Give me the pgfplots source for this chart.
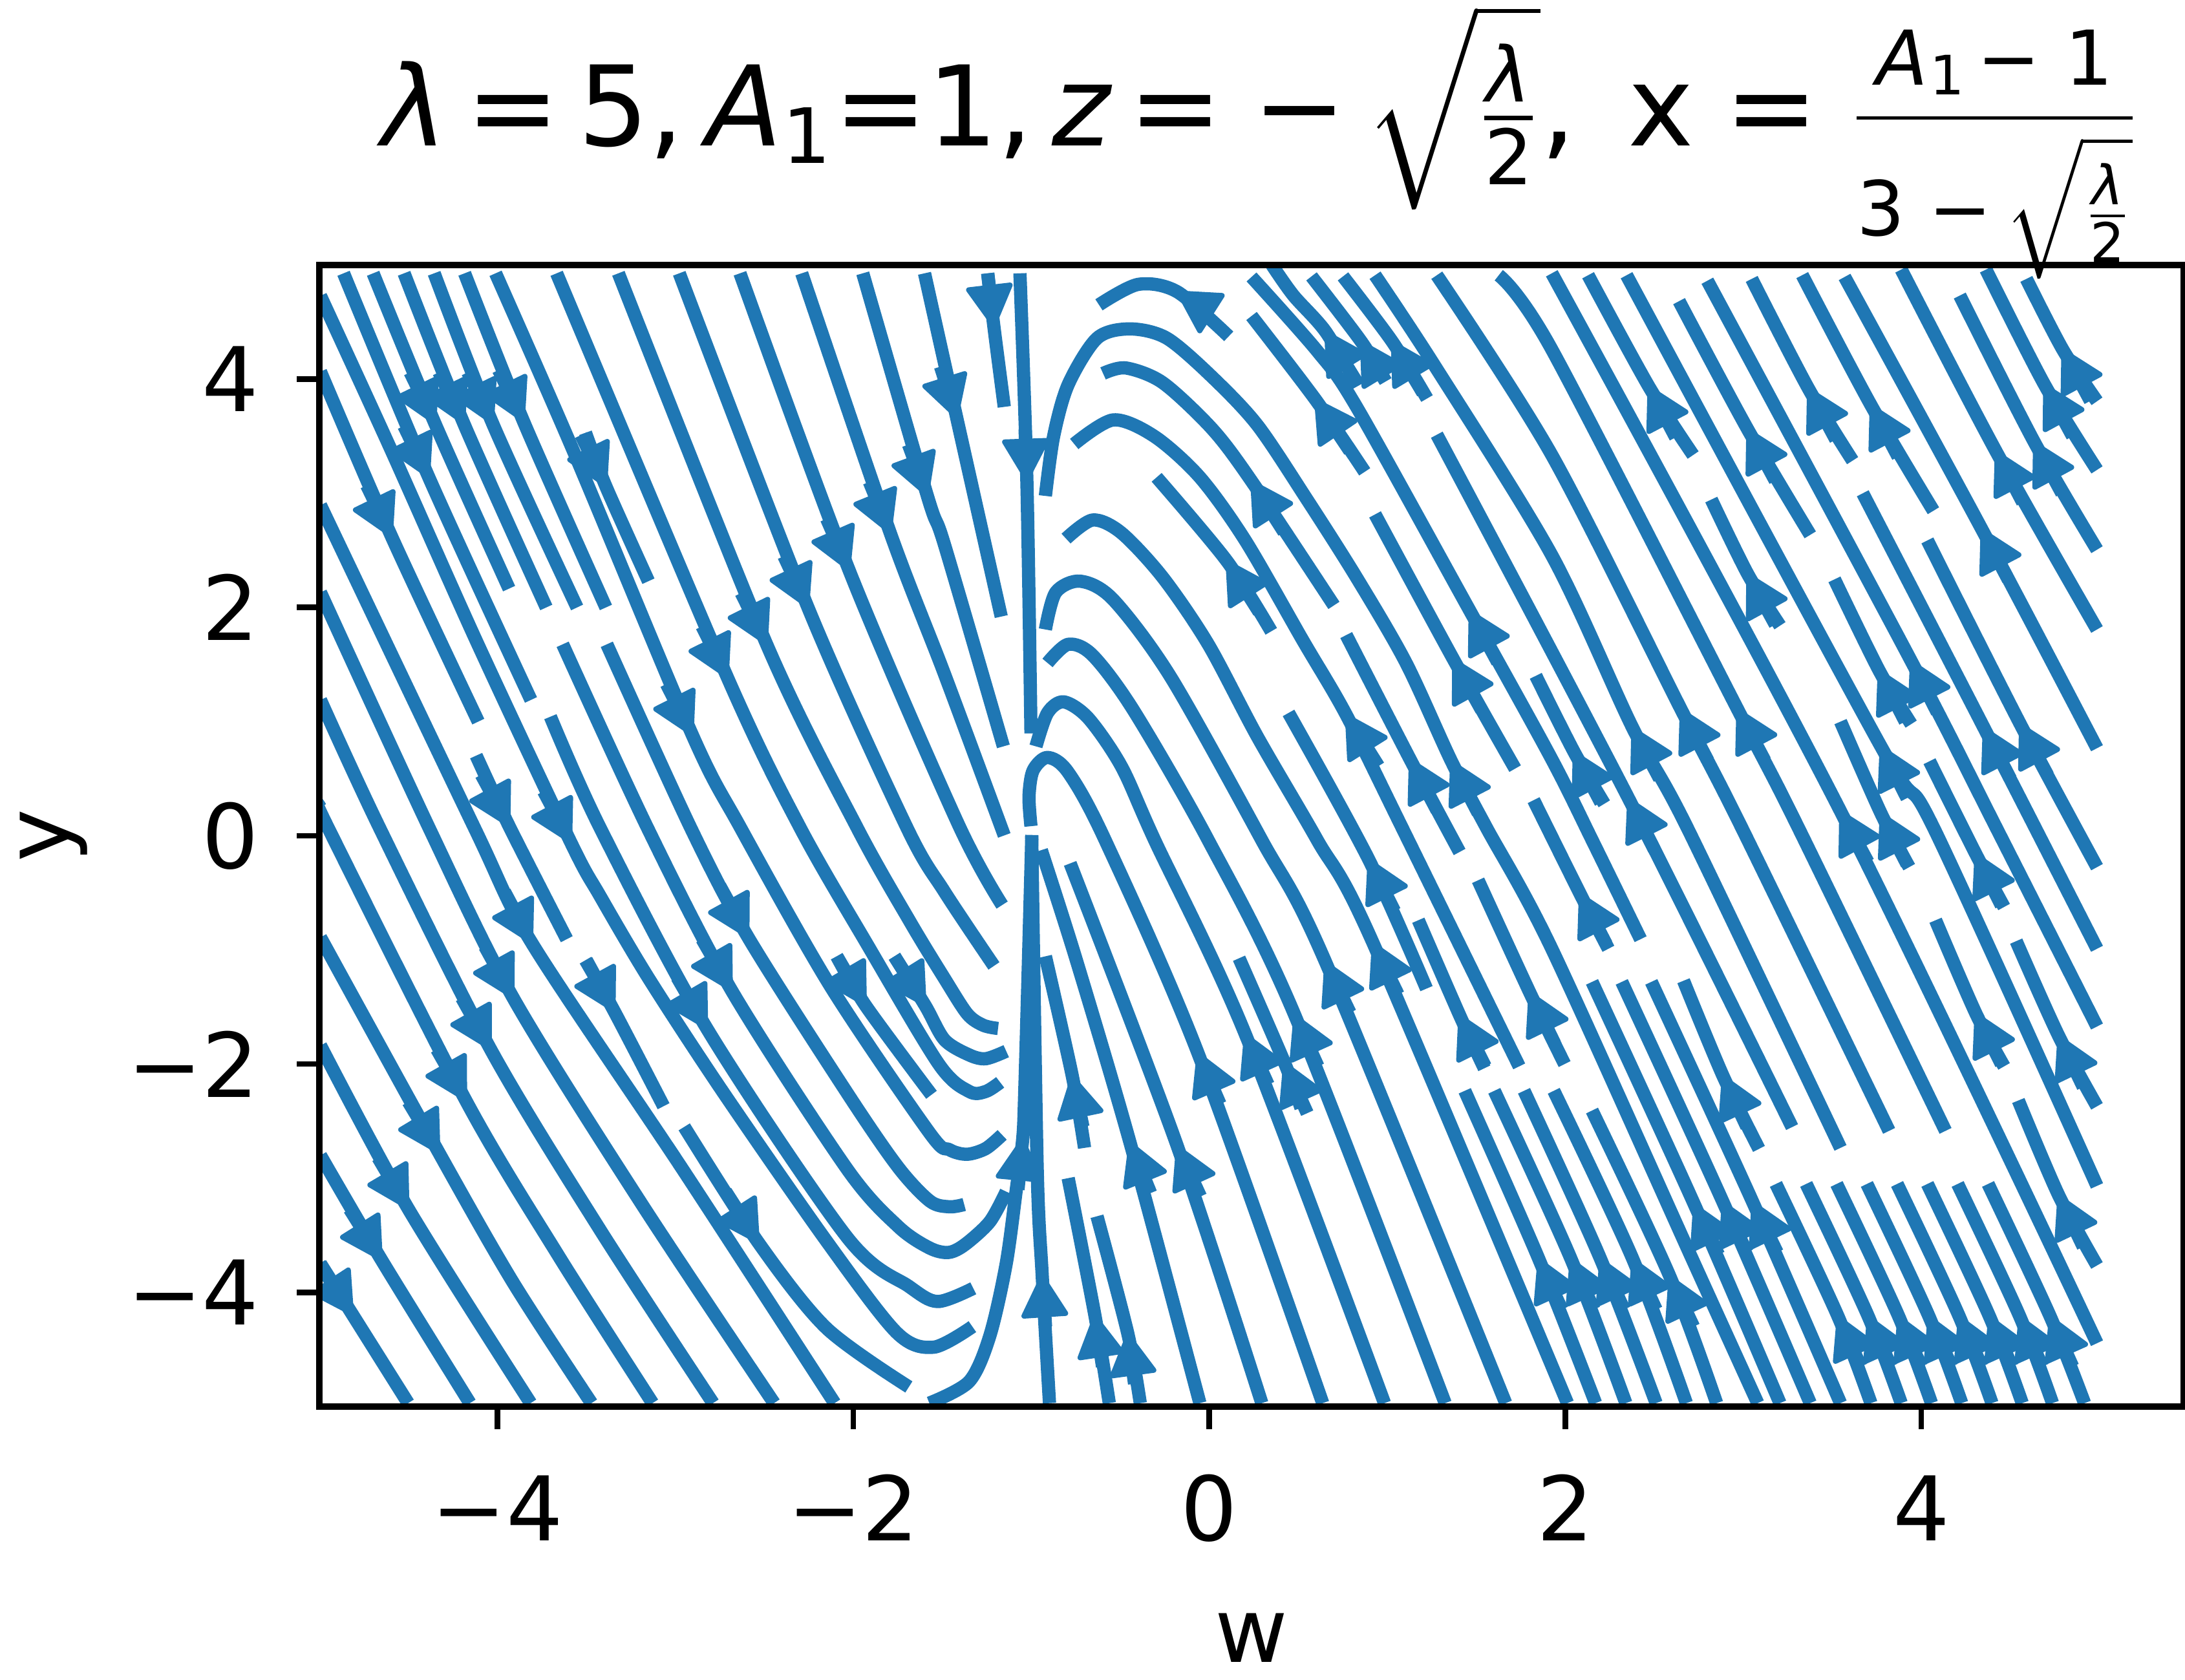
\documentclass[border=0pt]{standalone}
\usepackage{fontspec}
\setmainfont{DejaVu Sans}
\usepackage{amsmath}
\usepackage{pgfplots}
\pgfplotsset{compat=1.18}
\usetikzlibrary{arrows.meta}
\definecolor{tabblue}{HTML}{1F77B4}

% 1 px of the reference = 0.1pt
\pgfplotsset{
  stream/.style={tabblue,line width=2.05pt,line cap=butt,line join=round,smooth,tension=0.5,no markers},
  streamhead/.style={tabblue,line width=2.05pt,line cap=butt,no markers,
    -{Triangle[length=7.0pt,width=7.6pt,round,line width=0.8pt]}},
}
\newcommand\strm[1]{\addplot[stream] coordinates {#1};}
\newcommand\hd[1]{\addplot[streamhead] coordinates {#1};}
\newcommand\fs[1]{\fontsize{#1}{#1}\selectfont}

\begin{document}
\begin{tikzpicture}
\useasboundingbox (-49.4pt,-42.3pt) rectangle (288.6pt,217.6pt);
\begin{axis}[
  scale only axis, width=288.4pt, height=176.6pt,
  at={(0,0)}, anchor=south west,
  xmin=-5, xmax=5.474, ymin=-5, ymax=5,
  xtick={-4,-2,0,2,4}, ytick={-4,-2,0,2,4},
  xticklabels={−4,−2,0,2,4}, yticklabels={−4,−2,0,2,4},
  tick align=outside, tick pos=lower,
  major tick length=3.5pt,
  every tick/.style={black,line width=0.85pt},
  axis line style={line width=0.95pt},
  axis on top,
  tick label style={font=\fs{13.8}},
  xticklabel style={anchor=base,yshift=-17.3pt},
  yticklabel style={anchor=east,xshift=-2.3pt},
  xlabel={w}, ylabel={y},
  label style={font=\fs{13.8}},
  xlabel style={at={(axis description cs:0.5,0)},anchor=base,yshift=-39.6pt},
  ylabel style={at={(axis description cs:0,0.5)},anchor=base,yshift=38.7pt},
  title={$\hbox{\itshape λ}\,\hbox{=}\,\hbox{5,}\kern3.4pt\hbox{\itshape A}_{\hbox{\fs{11.8}1}}\hbox{=1,}\,\hbox{\itshape z}\,\hbox{=}\;\hbox{−}\,\sqrt{\frac{\hbox{\fs{11.8}\itshape λ}}{\hbox{\fs{11.8}2}}}\hbox{,\kern2.6pt\ x}\;\hbox{=}\;\genfrac{}{}{0.55pt}{}{\hbox{\rule[-4.3pt]{0pt}{4.3pt}\fs{11.7}\itshape A\kern0.3pt\raisebox{-1.5pt}{\fs{8.4}\upshape 1}\,\upshape − 1}}{\vbox{\kern2pt\hbox{\fs{11.7}3 −\,$\sqrt{\frac{\hbox{\fs{8.4}\itshape λ}}{\hbox{\fs{8.4}2}}}$}}}$},
  title style={font=\fs{17.2},at={(axis description cs:0.5,1)},anchor=base,yshift=12.4pt,xshift=1.5pt,inner sep=0pt},
]
% left of the singular line: flow goes down
\strm{(-4.994,4.73)(-4.594,3.37)(-4.119,1.71)(-3.587,-.059)(-3.424,-.525)(-3.147,-1.256)(-2.73,-2.25)(-2.151,-3.55)(-1.758,-4.35)(-1.549,-4.48)(-1.331,-4.30)}
\strm{(-4.864,4.927)(-4.385,3.14)(-3.811,1.19)}
\strm{(-4.994,4.066)(-4.594,2.62)(-4.107,1.0)}
\strm{(-4.698,4.927)(-4.35,3.61)(-3.934,2.165)}
\strm{(-4.524,4.927)(-4.188,3.61)(-3.725,2.0)}
\strm{(-4.355,4.927)(-4.026,3.61)(-3.552,2.0)}
\strm{(-4.184,4.927)(-3.853,3.63)(-3.39,2.0)}
\strm{(-4.01,4.927)(-3.563,3.335)(-2.904,.881)(-2.635,.074)(-2.128,-1.32)(-1.573,-2.6)(-1.46,-2.75)(-1.361,-2.79)(-1.256,-2.74)(-1.164,-2.62)}
\strm{(-3.505,3.53)(-3.39,3.06)(-3.151,2.23)}
\strm{(-3.667,4.927)(-2.707,1.385)(-2.30,.074)(-1.92,-.957)(-1.52,-2.0)(-1.349,-2.24)(-1.256,-2.24)(-1.175,-2.16)}
\strm{(-3.32,4.927)(-2.487,1.677)(-1.98,.074)(-1.68,-.757)(-1.488,-1.25)(-1.36,-1.56)(-1.27,-1.66)(-1.187,-1.688)}
\strm{(-2.978,4.927)(-2.255,2.0)(-1.70,.074)(-1.488,-.49)(-1.21,-1.14)}
\strm{(-2.637,4.927)(-2.024,2.327)(-1.415,.117)(-1.164,-.607)}
\strm{(-2.29,4.927)(-1.792,2.65)(-1.488,1.417)(-1.152,.003)}
\strm{(-1.947,4.927)(-1.584,2.977)(-1.488,2.55)(-1.157,.783)}
\strm{(-1.6,4.927)(-1.419,3.66)(-1.169,1.92)}
\strm{(-1.245,4.927)(-1.21,4.456)(-1.152,3.757)}
\strm{(-1.064,4.927)(-1.025,3.107)(-1.002,.897)}
\strm{(-4.994,2.896)(-4.13,.074)(-3.806,-.94)(-2.961,-2.917)(-2.105,-4.97)}
\strm{(-4.994,2.132)(-4.385,.074)(-3.911,-1.42)(-3.193,-3.216)(-2.445,-4.97)}
\strm{(-4.994,1.19)(-4.663,.074)(-4.038,-1.87)(-3.424,-3.449)(-2.788,-4.97)}
\strm{(-4.994,.247)(-4.952,.074)(-4.177,-2.319)(-3.656,-3.68)(-3.128,-4.97)}
\strm{(-4.994,-.89)(-4.327,-2.78)(-3.911,-3.914)(-3.471,-4.97)}
\strm{(-4.994,-1.837)(-4.501,-3.266)(-3.813,-4.97)}
\strm{(-4.994,-2.80)(-4.651,-3.715)(-4.154,-4.97)}
\strm{(-4.994,-3.748)(-4.813,-4.196)(-4.501,-4.97)}
\strm{(-4.119,.702)(-3.934,.085)(-3.61,-.906)}
\strm{(-3.505,-1.09)(-3.343,-1.538)(-3.066,-2.369)}
\strm{(-2.95,-2.55)(-2.533,-3.565)(-2.151,-4.313)(-1.688,-4.828)}
\strm{(-3.702,1.043)(-3.424,.074)(-2.823,-1.688)(-2.036,-3.515)(-1.688,-3.947)(-1.526,-4.08)(-1.326,-3.964)}
\strm{(-3.633,1.677)(-3.158,.074)(-2.684,-1.355)(-2.036,-2.917)(-1.75,-3.42)(-1.573,-3.61)(-1.465,-3.65)(-1.372,-3.58)(-1.233,-3.38)(-1.141,-3.117)}
\strm{(-3.385,1.677)(-2.915,.074)(-2.591,-.89)(-2.036,-2.25)(-1.75,-2.9)(-1.57,-3.2)(-1.46,-3.25)(-1.377,-3.23)}
\strm{(-1.769,-1.056)(-1.596,-1.488)(-1.488,-1.787)(-1.349,-1.92)(-1.256,-1.953)(-1.141,-1.887)}
\strm{(-2.093,-1.056)(-1.931,-1.488)(-1.561,-2.269)}
\hd{(-4.525,3.59)(-4.385,3.14)}
\hd{(-4.734,3.07)(-4.594,2.62)}
\hd{(-4.49,4.06)(-4.35,3.61)}
\hd{(-4.328,4.06)(-4.188,3.61)}
\hd{(-4.166,4.06)(-4.026,3.61)}
\hd{(-3.993,4.08)(-3.853,3.63)}
\hd{(-3.53,3.51)(-3.39,3.06)}
\hd{(-3.05,1.33)(-2.904,.881)}
\hd{(-2.85,1.835)(-2.707,1.385)}
\hd{(-2.63,2.127)(-2.487,1.677)}
\hd{(-2.39,2.45)(-2.255,2.0)}
\hd{(-2.15,2.777)(-2.024,2.327)}
\hd{(-1.91,3.1)(-1.792,2.65)}
\hd{(-1.69,3.427)(-1.584,2.977)}
\hd{(-1.51,4.11)(-1.419,3.66)}
\hd{(-1.245,4.927)(-1.21,4.456)}
\hd{(-1.035,3.56)(-1.025,3.107)}
\hd{(-3.74,.39)(-3.587,-.059)}
\hd{(-3.96,-.49)(-3.806,-.94)}
\hd{(-4.07,-.97)(-3.911,-1.42)}
\hd{(-4.2,-1.42)(-4.038,-1.87)}
\hd{(-4.34,-1.87)(-4.177,-2.319)}
\hd{(-4.5,-2.33)(-4.327,-2.78)}
\hd{(-4.67,-2.82)(-4.501,-3.266)}
\hd{(-4.83,-3.27)(-4.651,-3.715)}
\hd{(-5.0,-3.75)(-4.813,-4.196)}
\hd{(-4.09,.535)(-3.934,.085)}
\hd{(-3.5,-1.09)(-3.343,-1.538)}
\hd{(-2.718,-3.115)(-2.533,-3.565)}
\hd{(-2.99,-1.24)(-2.823,-1.688)}
\hd{(-2.85,-.905)(-2.684,-1.355)}
\hd{(-2.75,-.44)(-2.591,-.89)}
\hd{(-1.769,-1.056)(-1.596,-1.488)}
\hd{(-2.093,-1.056)(-1.931,-1.488)}
% singular line and the lines that leave it
\strm{(-1.573,-4.97)(-1.349,-4.78)(-1.233,-4.38)(-1.141,-3.747)(-1.083,-3.083)(-1.048,-2.65)(-1.037,-2.25)(-1.013,-.923)(-.997,.007)}
\strm{(-.898,-4.97)(-.939,-3.847)(-.967,-2.917)(-.998,.0)}
\strm{(-.793,-2.999)(-.643,-4.2)(-.562,-4.97)}
\strm{(-.631,-3.333)(-.458,-4.36)(-.388,-4.97)}
\strm{(-.921,-1.056)(-.77,-2.103)(-.701,-2.734)}
\strm{(-.944,-.126)(-.747,-1.09)(-.446,-2.685)(-.053,-4.97)}
\strm{(-.782,-.242)(-.18,-2.718)(.295,-4.97)}
\strm{(-1.002,.084)(-1.013,.344)(-.99,.572)(-.909,.686)(-.793,.556)(-.585,-.039)(-.064,-1.903)(.637,-4.97)}
\strm{(-.974,.783)(-.909,1.076)(-.817,1.173)(-.678,1.027)(-.493,.605)(-.307,-.039)(.202,-1.737)(.984,-4.97)}
\strm{(-.909,1.514)(-.793,1.677)(-.655,1.58)(-.423,1.092)(-.006,-.039)(.48,-1.571)(1.325,-4.97)}
\strm{(-.921,1.807)(-.863,2.132)(-.724,2.23)(-.539,2.067)(-.215,1.385)(.295,-.039)(.653,-1.106)(1.665,-4.97)}
\strm{(-.805,2.603)(-.655,2.766)(-.493,2.652)(-.261,2.262)(-.006,1.677)(.271,.865)(.607,-.039)(.92,-.94)(2.012,-4.97)}
\strm{(.445,1.076)(.896,-.209)(1.22,-1.339)}
\strm{(-.759,3.432)(-.539,3.643)(-.307,3.497)(-.053,3.14)(.202,2.587)(.526,1.71)(.769,1.06)(1.082,.074)(1.741,-2.02)}
\strm{(-.296,3.14)(.098,2.408)(.348,1.791)}
\strm{(-.597,4.05)(-.469,4.098)(-.261,3.968)(.017,3.562)(.237,3.107)(.7,2.018)}
\strm{(-.62,4.651)(-.40,4.83)(-.18,4.765)(.109,4.375)}
\strm{(.237,4.553)(.596,3.822)(.873,3.188)}
\strm{(-.921,2.977)(-.875,3.497)(-.793,3.952)(-.631,4.358)(-.446,4.44)(-.238,4.358)(.017,4.017)(.271,3.595)(.549,2.945)(.827,2.262)(1.105,1.515)(1.36,.653)(1.556,.074)(1.924,-.99)(2.705,-3.68)(3.081,-4.97)}
\strm{(.769,1.758)(1.128,.67)(1.406,-.142)}
\strm{(.931,2.815)(1.371,1.547)(1.718,.588)}
\strm{(1.278,3.513)(2.355,.328)(3.274,-2.552)}
\strm{(.237,4.895)(.607,4.245)(.827,3.757)(1.464,1.97)(1.924,.67)(2.151,-.039)(2.423,-.906)}
\strm{(.352,5.0)(.472,4.734)(.653,4.417)(.835,3.94)}
\strm{(.574,4.9)(.853,4.33)(.991,3.98)}
\strm{(.751,4.9)(1.027,4.33)(1.223,3.83)}
\strm{(.931,4.91)(1.267,4.115)(1.924,2.457)(2.378,.946)(2.684,.074)(3.546,-2.734)}
\strm{(1.278,4.91)(1.924,3.335)(2.65,1.108)(2.99,.074)(3.819,-2.585)}
\strm{(1.626,4.91)(1.924,4.26)(2.968,1.108)(3.308,.074)(4.136,-2.585)}
\strm{(1.924,4.927)(3.546,.215)(4.987,-4.445)}
% right block
\strm{(2.128,4.91)(2.469,3.936)(2.718,3.335)}
\strm{(2.344,4.91)(3.773,.783)(4.068,.074)(4.987,-3.067)}
\strm{(2.639,4.683)(3.024,3.562)(3.376,2.636)}
\strm{(2.798,4.862)(3.943,1.531)(4.42,.074)(4.987,-1.671)}
\strm{(3.047,4.878)(3.365,3.92)(3.614,3.286)}
\strm{(3.331,4.911)(3.717,3.773)(4.068,2.847)}
\strm{(3.569,4.895)(4.34,2.685)(4.987,.767)}
\strm{(3.887,4.96)(4.42,3.367)(4.987,1.807)}
\strm{(4.216,4.732)(4.635,3.448)(4.987,2.506)}
\strm{(4.363,4.96)(4.692,3.952)(4.987,3.205)}
\strm{(4.59,4.878)(4.794,4.261)(4.987,3.806)}
\strm{(2.82,2.945)(3.024,2.295)(3.206,1.84)}
\strm{(3.512,2.246)(3.762,1.45)(3.943,.978)}
\strm{(3.671,3.0)(4.352,.946)(4.987,-.99)}
\strm{(4.034,2.587)(4.556,.978)(4.987,-.275)}
\strm{(3.546,1.0)(3.773,.198)(3.932,-.275)}
\strm{(4.046,.653)(4.306,-.159)(4.465,-.624)}
\strm{(4.08,-.74)(4.306,-1.555)(4.465,-2.02)}
\strm{(4.533,-.923)(4.772,-1.754)(4.987,-2.37)}
\strm{(4.545,-2.319)(4.772,-3.15)(4.987,-3.764)}
\strm{(1.834,1.401)(2.049,.735)(2.219,.28)}
\strm{(1.822,.312)(2.083,-.508)(2.242,-.99)}
\strm{(.167,-1.073)(.422,-1.987)(.515,-2.385)}
\strm{(1.174,-.74)(1.406,-1.571)(1.545,-2.037)}
\strm{(1.51,-.39)(1.8,-1.372)(1.996,-2.0)}
\strm{(2.664,-1.27)(2.886,-2.104)(3.088,-2.743)}
% dense rows at the bottom right
\strm{(1.435,-2.234)(1.851,-3.707)(2.17,-4.97)}
\strm{(1.601,-2.234)(2.032,-3.707)(2.34,-4.97)}
\strm{(1.768,-2.234)(2.198,-3.707)(2.51,-4.97)}
\strm{(1.935,-2.234)(2.379,-3.707)(2.68,-4.97)}
\strm{(2.15,-2.407)(2.587,-3.859)(2.85,-4.97)}
\strm{(2.15,-1.28)(2.725,-3.23)(3.206,-4.97)}
\strm{(2.317,-1.28)(2.886,-3.209)(3.376,-4.97)}
\strm{(2.483,-1.28)(3.053,-3.209)(3.546,-4.97)}
\strm{(3.183,-3.05)(3.532,-4.21)(3.717,-4.97)}
\strm{(3.353,-3.05)(3.702,-4.21)(3.887,-4.97)}
\strm{(3.524,-3.05)(3.873,-4.21)(4.057,-4.97)}
\strm{(3.694,-3.05)(4.043,-4.21)(4.227,-4.97)}
\strm{(3.864,-3.05)(4.213,-4.21)(4.397,-4.97)}
\strm{(4.034,-3.05)(4.383,-4.21)(4.567,-4.97)}
\strm{(4.204,-3.05)(4.553,-4.21)(4.737,-4.97)}
\strm{(4.375,-3.05)(4.724,-4.21)(4.917,-4.97)}
% arrow heads, right of the singular line: flow goes up
\hd{(-1.075,-3.1)(-1.048,-2.65)}
\hd{(-.92,-4.3)(-.939,-3.847)}
\hd{(-.60,-4.65)(-.643,-4.2)}
\hd{(-.42,-4.8)(-.458,-4.36)}
\hd{(-.71,-2.55)(-.77,-2.103)}
\hd{(-.33,-3.13)(-.446,-2.685)}
\hd{(-.05,-3.16)(-.18,-2.718)}
\hd{(.06,-2.35)(-.064,-1.903)}
\hd{(.33,-2.18)(.202,-1.737)}
\hd{(.61,-2.02)(.48,-1.571)}
\hd{(.79,-1.55)(.653,-1.106)}
\hd{(1.06,-1.39)(.92,-.94)}
\hd{(1.04,-.66)(.896,-.209)}
\hd{(.55,-2.43)(.422,-1.987)}
\hd{(.017,4.57)(-.18,4.765)}
\hd{(1.51,.2)(1.36,.653)}
\hd{(.42,2.66)(.237,3.107)}
\hd{(.95,.61)(.769,1.06)}
\hd{(.28,1.96)(.098,2.408)}
\hd{(.79,3.37)(.596,3.822)}
\hd{(.83,3.97)(.653,4.417)}
\hd{(.99,3.98)(.853,4.33)}
\hd{(1.2,3.88)(1.027,4.33)}
\hd{(1.28,.22)(1.128,.67)}
\hd{(1.53,1.1)(1.371,1.547)}
\hd{(1.62,1.52)(1.464,1.97)}
\hd{(2.5,-.12)(2.355,.328)}
\hd{(2.53,.5)(2.378,.946)}
\hd{(2.8,.66)(2.65,1.108)}
\hd{(3.12,.66)(2.968,1.108)}
\hd{(3.7,-.23)(3.546,.215)}
\hd{(2.62,3.49)(2.469,3.936)}
\hd{(3.92,.33)(3.773,.783)}
\hd{(3.18,3.11)(3.024,3.562)}
\hd{(4.09,1.08)(3.943,1.531)}
\hd{(3.52,3.47)(3.365,3.92)}
\hd{(3.87,3.32)(3.717,3.773)}
\hd{(4.49,2.24)(4.34,2.685)}
\hd{(4.57,2.92)(4.42,3.367)}
\hd{(4.79,3.0)(4.635,3.448)}
\hd{(4.85,3.5)(4.692,3.952)}
\hd{(4.95,3.81)(4.794,4.261)}
\hd{(3.18,1.85)(3.024,2.295)}
\hd{(3.91,1.0)(3.762,1.45)}
\hd{(4.5,.5)(4.352,.946)}
\hd{(4.71,.53)(4.556,.978)}
\hd{(3.92,-.25)(3.773,.198)}
\hd{(4.45,-.61)(4.306,-.159)}
\hd{(4.45,-2.0)(4.306,-1.555)}
\hd{(4.91,-2.2)(4.772,-1.754)}
\hd{(4.91,-3.6)(4.772,-3.15)}
\hd{(2.2,.29)(2.049,.735)}
\hd{(2.23,-.95)(2.083,-.508)}
\hd{(1.55,-2.02)(1.406,-1.571)}
\hd{(1.94,-1.82)(1.8,-1.372)}
\hd{(3.02,-2.55)(2.886,-2.104)}
\hd{(1.98,-4.15)(1.851,-3.707)}
\hd{(2.16,-4.15)(2.032,-3.707)}
\hd{(2.33,-4.15)(2.198,-3.707)}
\hd{(2.51,-4.15)(2.379,-3.707)}
\hd{(2.72,-4.3)(2.587,-3.859)}
\hd{(2.86,-3.67)(2.725,-3.23)}
\hd{(3.02,-3.65)(2.886,-3.209)}
\hd{(3.19,-3.65)(3.053,-3.209)}
\hd{(3.66,-4.65)(3.532,-4.21)}
\hd{(3.83,-4.65)(3.702,-4.21)}
\hd{(4.0,-4.65)(3.873,-4.21)}
\hd{(4.17,-4.65)(4.043,-4.21)}
\hd{(4.34,-4.65)(4.213,-4.21)}
\hd{(4.51,-4.65)(4.383,-4.21)}
\hd{(4.68,-4.65)(4.553,-4.21)}
\hd{(4.85,-4.65)(4.724,-4.21)}
\end{axis}
\end{tikzpicture}
\end{document}
